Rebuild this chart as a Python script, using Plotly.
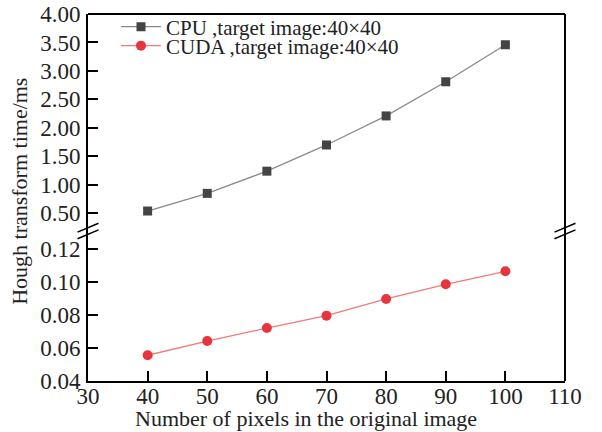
import plotly.graph_objects as go

pixels = [40, 50, 60, 70, 80, 90, 100]
cpu_ms = [0.54, 0.85, 1.24, 1.70, 2.21, 2.81, 3.46]
cuda_ms = [0.0556, 0.0642, 0.0721, 0.0796, 0.0897, 0.0986, 0.1065]
cpu_name = "CPU ,target image:40×40"
cuda_name = "CUDA ,target image:40×40"
x_title = "Number of pixels in the original image"
y_title = "Hough transform time/ms"
top_ticks = [0.5, 1.0, 1.5, 2.0, 2.5, 3.0, 3.5, 4.0]
bottom_ticks = [0.04, 0.06, 0.08, 0.10, 0.12]
x_ticks = [30, 40, 50, 60, 70, 80, 90, 100, 110]

FONT = "Liberation Serif, Times New Roman, serif"
brk = 0.4087

fig = go.Figure()
fig.add_trace(go.Scatter(
    x=pixels, y=cpu_ms, name=cpu_name, yaxis="y2", mode="lines+markers",
    line=dict(color="#8a8a8a", width=1.3), legend="legend",
    marker=dict(symbol="square", size=9, color="#444444"),
))
fig.add_trace(go.Scatter(
    x=pixels, y=cuda_ms, name=cuda_name, yaxis="y", mode="lines+markers",
    line=dict(color="#f07a7a", width=1.3), legend="legend2",
    marker=dict(symbol="circle", size=10, color="#e8343c"),
))

axis_common = dict(showgrid=False, zeroline=False, showline=True, linecolor="black",
                   linewidth=2, ticks="inside", ticklen=10, tickwidth=2, tickcolor="black",
                   automargin=False, ticklabeloverflow="allow",
                   tickfont=dict(family=FONT, size=23, color="#222"))

legend_common = dict(xanchor="left", yanchor="top", yref="container",
                     bgcolor="rgba(0,0,0,0)", font=dict(family=FONT, size=21, color="#222"),
                     itemwidth=40)

fig.update_layout(
    width=602, height=432,
    margin=dict(l=88, r=37, t=14, b=51, autoexpand=False),
    plot_bgcolor="white", paper_bgcolor="white",
    font=dict(family=FONT, color="#222"),
    showlegend=True,
    legend=dict(x=0.0587, y=0.985, **legend_common),
    legend2=dict(x=0.0587, y=0.941, **legend_common),
    xaxis=dict(range=[30, 110], tickvals=x_ticks, anchor="y", ticklabelstandoff=-7,
               **axis_common),
    yaxis=dict(domain=[0, brk], range=[0.04, 0.1309], tickvals=bottom_ticks,
               tickformat=".2f", anchor="x", ticklabelstandoff=1, **axis_common),
    yaxis2=dict(domain=[brk, 1], range=[0.189, 4.0], tickvals=top_ticks,
                tickformat=".2f", anchor="x", ticklabelstandoff=1, **axis_common),
)

# top and right border lines
fig.add_shape(type="line", xref="paper", yref="paper", x0=1, x1=1, y0=0, y1=1,
              line=dict(color="black", width=2))
fig.add_shape(type="line", xref="paper", yref="paper", x0=0, x1=1, y0=1, y1=1,
              line=dict(color="black", width=2))
# break marks on left and right axes
for xp in (0, 1):
    for dy in (-0.009, 0.009):
        fig.add_shape(type="line", xref="paper", yref="paper",
                      x0=xp - 0.022, x1=xp + 0.022, y0=brk + dy - 0.012, y1=brk + dy + 0.012,
                      line=dict(color="black", width=1.5))

fig.add_annotation(text=y_title, xref="paper", yref="paper", x=-0.1426, y=0.518,
                   textangle=-90, showarrow=False, xanchor="center", yanchor="middle",
                   font=dict(family=FONT, size=22, color="#222"))
fig.add_annotation(text=x_title, xref="paper", yref="paper", x=0.457, y=0,
                   yshift=-37, showarrow=False, xanchor="center", yanchor="middle",
                   font=dict(family=FONT, size=22, color="#222"))

fig.write_html("out.html", config={"displayModeBar": False},
               post_script="document.body.style.margin='0';")
